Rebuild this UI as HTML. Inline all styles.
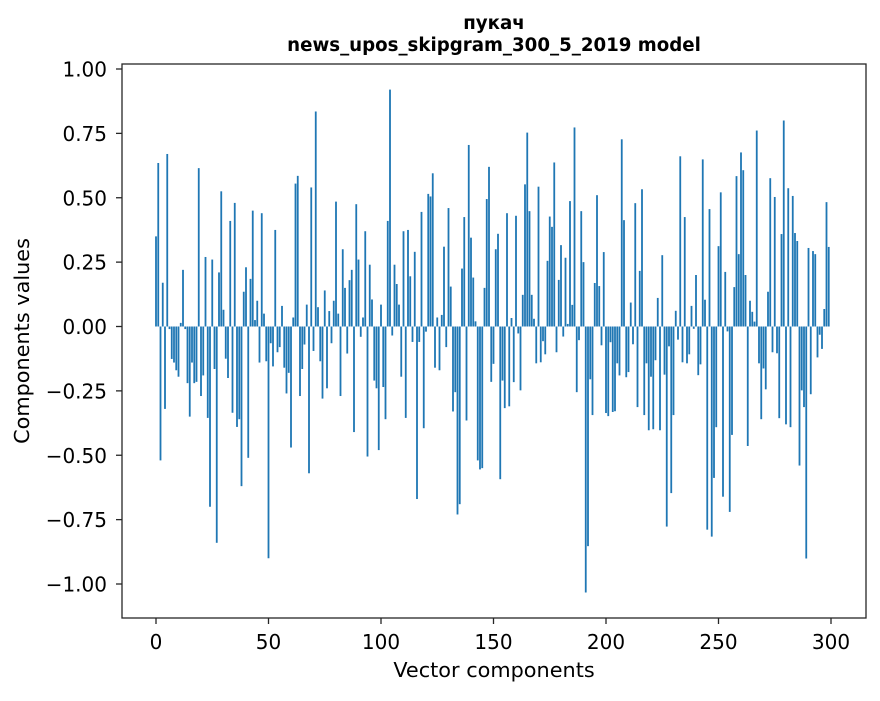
<!DOCTYPE html>
<html><head><meta charset="utf-8"><style>
html,body{margin:0;padding:0;background:#fff;}
svg text{font-family:"DejaVu Sans","Liberation Sans",sans-serif;fill:#000;}
</style></head><body>
<svg id="chart" width="880" height="696" xmlns="http://www.w3.org/2000/svg">
<rect width="880" height="696" fill="#fff"/>
<text x="494" y="29" text-anchor="middle" font-size="18.2" font-weight="bold">пукач</text>
<text x="494" y="51" text-anchor="middle" font-size="18.2" font-weight="bold">news_upos_skipgram_300_5_2019 model</text>
<g id="bars"></g>
<g id="xticks"></g>
<g id="yticks"></g>
<rect x="122" y="64" width="744" height="554" fill="none" stroke="#262626" stroke-width="1.3"/>
<text x="494" y="677" text-anchor="middle" font-size="20.8">Vector components</text>
<text transform="translate(29,341) rotate(-90)" text-anchor="middle" font-size="20.8">Components values</text>
</svg>
<script>
const values = [0.35,0.635,-0.52,0.17,-0.32,0.67,-0.01,-0.126,-0.14,-0.17,-0.195,0.014,0.22,-0.01,-0.22,-0.35,-0.14,-0.22,-0.215,0.615,
-0.27,-0.19,0.27,-0.355,-0.70,0.26,-0.165,-0.84,0.21,0.525,0.065,-0.125,-0.2,0.41,-0.335,0.48,-0.39,-0.36,-0.62,0.135,
0.23,-0.51,0.185,0.45,0.025,0.1,-0.14,0.44,0.05,-0.135,-0.9,-0.065,-0.155,0.375,-0.1,-0.08,0.08,-0.16,-0.26,-0.18,
-0.47,0.035,0.555,0.585,-0.27,-0.165,-0.07,0.085,-0.57,0.54,-0.095,0.835,0.075,-0.135,-0.28,0.14,-0.24,0.06,-0.065,0.1,
0.485,0.05,-0.27,0.3,0.15,-0.105,0.18,0.22,-0.41,0.475,0.26,-0.04,0.035,0.37,-0.505,0.24,0.105,-0.21,-0.24,-0.48,
0.085,-0.235,-0.36,0.41,0.92,-0.035,0.24,0.165,0.085,-0.195,0.37,-0.355,0.375,0.195,-0.06,0.29,-0.67,-0.06,0.445,-0.395,
-0.02,0.515,0.505,0.595,-0.16,0.035,-0.17,0.045,0.31,-0.08,0.46,0.155,-0.33,-0.255,-0.73,-0.69,0.225,0.425,-0.365,0.705,
0.345,0.19,0.02,-0.52,-0.555,-0.55,0.15,0.495,0.62,-0.215,-0.145,0.3,0.36,-0.593,-0.21,-0.317,0.44,-0.31,0.033,-0.216,
0.43,-0.027,-0.248,0.123,0.552,0.753,0.448,0.123,0.03,-0.143,0.543,-0.139,-0.057,-0.108,0.255,0.427,0.387,0.637,-0.1,0.181,
0.316,-0.039,0.267,0.01,0.487,0.084,0.773,-0.255,-0.053,0.448,0.25,-1.033,-0.853,-0.205,-0.344,0.169,0.51,0.157,-0.073,0.289,
-0.336,-0.348,-0.061,-0.332,-0.329,-0.143,-0.19,0.727,0.413,-0.197,-0.177,0.093,-0.069,0.479,-0.313,0.216,0.533,-0.344,-0.143,-0.403,
-0.195,-0.399,-0.131,0.111,-0.403,0.277,-0.187,-0.777,-0.077,-0.647,-0.344,0.061,-0.051,0.661,-0.139,0.425,-0.143,-0.108,0.08,-0.009,
0.2,-0.189,-0.147,0.649,0.104,-0.789,0.456,-0.816,-0.588,-0.391,0.312,0.521,-0.661,0.212,-0.019,-0.72,-0.421,0.153,0.584,0.281,
0.676,0.607,0.2,-0.464,0.1,0.057,0.019,0.761,-0.143,-0.36,-0.163,-0.244,0.135,0.576,-0.1,0.503,-0.104,-0.356,0.359,0.8,
-0.38,0.537,-0.391,0.507,0.363,0.332,-0.54,-0.248,-0.313,-0.901,0.305,-0.263,0.293,0.281,-0.12,-0.032,-0.087,0.068,0.483,0.309];
const xTickValues = [0,50,100,150,200,250,300];
const yTickValues = [-1.0,-0.75,-0.5,-0.25,0,0.25,0.5,0.75,1.0];
const yTickLabels = ["\u22121.00","\u22120.75","\u22120.50","\u22120.25","0.00","0.25","0.50","0.75","1.00"];

const NS = "http://www.w3.org/2000/svg";
function xScale(v){ return 156 + 2.25*v; }
function yScale(v){ return 326.5 - 257.5*v; }

const barsG = document.getElementById('bars');
values.forEach(function(v,i){
  const r = document.createElementNS(NS,'rect');
  const y0 = yScale(0), y1 = yScale(v);
  r.setAttribute('x', xScale(i-0.4));
  r.setAttribute('width', 2.25*0.8);
  r.setAttribute('y', Math.min(y0,y1));
  r.setAttribute('height', Math.abs(y1-y0));
  r.setAttribute('fill', '#1f77b4');
  
  
  barsG.appendChild(r);
});

const xg = document.getElementById('xticks');
xTickValues.forEach(function(t){
  const x = xScale(t);
  const l = document.createElementNS(NS,'line');
  l.setAttribute('x1',x); l.setAttribute('x2',x); l.setAttribute('y1',618); l.setAttribute('y2',624);
  l.setAttribute('stroke','#262626'); l.setAttribute('stroke-width','1.3');
  
  
  xg.appendChild(l);
  const tx = document.createElementNS(NS,'text');
  tx.setAttribute('x',x); tx.setAttribute('y',649); tx.setAttribute('text-anchor','middle'); tx.setAttribute('font-size','20');
  tx.textContent = String(t);
  
  
  xg.appendChild(tx);
});

const yg = document.getElementById('yticks');
yTickValues.forEach(function(t,k){
  const y = yScale(t);
  const l = document.createElementNS(NS,'line');
  l.setAttribute('x1',116); l.setAttribute('x2',122); l.setAttribute('y1',y); l.setAttribute('y2',y);
  l.setAttribute('stroke','#262626'); l.setAttribute('stroke-width','1.3');
  
  
  yg.appendChild(l);
  const tx = document.createElementNS(NS,'text');
  tx.setAttribute('x',107); tx.setAttribute('y',y+7.5); tx.setAttribute('text-anchor','end'); tx.setAttribute('font-size','20');
  tx.textContent = yTickLabels[k];
  
  
  yg.appendChild(tx);
});
</script>
</body></html>
